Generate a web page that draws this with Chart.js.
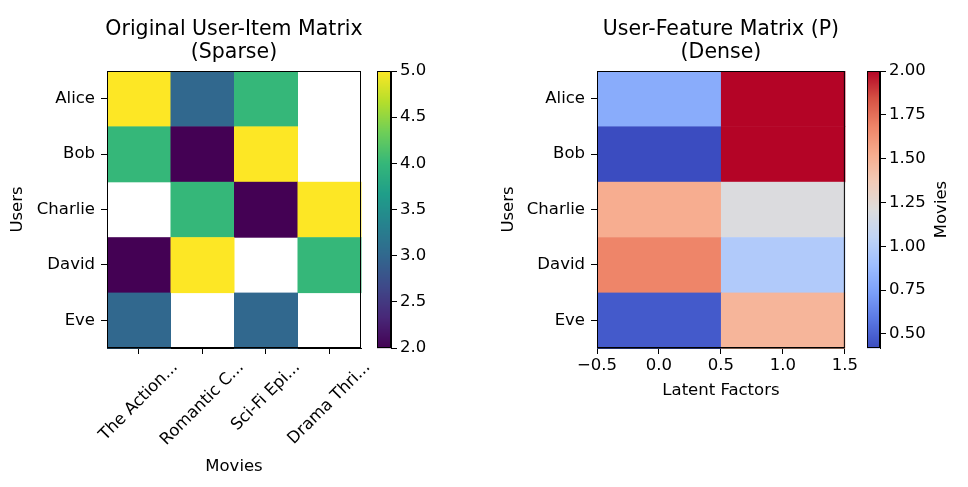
<!DOCTYPE html>
<html><head><meta charset="utf-8">
<script src="https://cdn.jsdelivr.net/npm/chart.js@4"></script>
<style>
body{margin:0;background:#fff;width:968px;height:487px;overflow:hidden;position:relative;font-family:"DejaVu Sans"}
.p{position:absolute;top:0;height:487px}
</style></head><body>
<div class="p" style="left:0;width:370px"><canvas id="c1"></canvas></div>
<div class="p" style="left:370px;width:110px"><canvas id="c2"></canvas></div>
<div class="p" style="left:480px;width:380px"><canvas id="c3"></canvas></div>
<div class="p" style="left:860px;width:108px"><canvas id="c4"></canvas></div>
<script>
const users = ["Alice","Bob","Charlie","David","Eve"];
const movies = ["The Action...","Romantic C...","Sci-Fi Epi...","Drama Thri..."];
const ratings = [
  [5,3,4,null],
  [4,2,5,null],
  [null,4,2,5],
  [2,5,null,4],
  [3,null,3,null]
];
const latentFactors = [0,1];
const userFeatures = [
  [0.80,2.00],
  [0.42,2.00],
  [1.52,1.20],
  [1.68,0.98],
  [0.47,1.48]
];
const ratingTicks = [2.0,2.5,3.0,3.5,4.0,4.5,5.0];
const featureTicks = [0.50,0.75,1.00,1.25,1.50,1.75,2.00];
const featureMin = 0.42, featureMax = 2.0;

const FS = 16.5;
Chart.defaults.font.family = "DejaVu Sans";
Chart.defaults.font.size = FS;
Chart.defaults.color = "#000";
Chart.defaults.animation = false;
Chart.defaults.responsive = true;
Chart.defaults.maintainAspectRatio = false;

const viridis = ["#440154","#482878","#3e4989","#31688e","#26828e","#1f9e89","#35b779","#6ece58","#b5de2b","#fde725"];
const coolwarm = ["#3b4cc0","#5977e3","#7b9ff9","#9ebeff","#c0d4f5","#dddcdc","#f2cbb7","#f7ac8e","#ee8468","#d65244","#b40426"];
function hex(h){return [1,3,5].map(i=>parseInt(h.substr(i,2),16));}
function cmap(stops,t){t=Math.max(0,Math.min(1,t));const n=stops.length-1;const i=Math.min(n-1,Math.floor(t*n));const f=t*n-i;const a=hex(stops[i]),b=hex(stops[i+1]);return `rgb(${a.map((v,k)=>Math.round(v+(b[k]-v)*f)).join(",")})`;}

const tickGrid = {display:true,drawOnChartArea:false,tickLength:6,color:"#000",tickWidth:1};
const border = {display:true,color:"#000",width:1};

function titlePlugin(lines){return {id:"t",afterDraw(c){const x=c.ctx;x.save();x.font="20.5px 'DejaVu Sans'";x.fillStyle="#000";x.textAlign="center";x.textBaseline="middle";const m=(c.chartArea.left+c.chartArea.right)/2;x.fillText(lines[0],m,30);x.fillText(lines[1],m,53);x.restore();}};}
function frame(){return {id:"f",afterDatasetsDraw(c){const a=c.chartArea,x=c.ctx;x.save();x.strokeStyle="#000";x.lineWidth=1;x.strokeRect(a.left+.5,a.top+.5,a.width-1,a.height-1);x.restore();}};}

// Left heatmap
new Chart(document.getElementById("c1"),{
  type:"scatter",
  data:{datasets:[{data:[]}]},
  options:{
    layout:{padding:{top:71,right:9,left:8,bottom:6}},
    plugins:{legend:{display:false},tooltip:{enabled:false}},
    scales:{
      x:{type:"category",labels:movies,offset:true,grid:tickGrid,border,
         ticks:{display:false},
         title:{display:true,text:"Movies",padding:{top:4}},
         afterFit(s){s.height=133;}},
      y:{type:"category",labels:users,offset:true,grid:tickGrid,border,
         ticks:{padding:6},
         title:{display:true,text:"Users",padding:0},
         afterFit(s){s.width=99;}}
    }
  },
  plugins:[titlePlugin(["Original User-Item Matrix","(Sparse)"]),{id:"cells",beforeDatasetsDraw(c){
    const x=c.ctx,xs=c.scales.x,ys=c.scales.y,w=c.chartArea.width/movies.length,h=c.chartArea.height/users.length;
    ratings.forEach((row,i)=>row.forEach((v,j)=>{if(v==null)return;x.fillStyle=cmap(viridis,(v-2)/3);
      x.fillRect(xs.getPixelForValue(j)-w/2,ys.getPixelForValue(i)-h/2,w+0.5,h+0.5);}));}},frame(),
  {id:"xl",afterDraw(c){const x=c.ctx,xs=c.scales.x,a=c.chartArea;x.save();x.font=FS+"px 'DejaVu Sans'";x.fillStyle="#000";x.textAlign="center";x.textBaseline="middle";
    movies.forEach((m,j)=>{const W=x.measureText(m).width,H=FS;const half=(W+H)*Math.SQRT1_2/2;x.save();x.translate(xs.getPixelForValue(j),a.bottom+11+half);x.rotate(-Math.PI/4);x.fillText(m,0,0);x.restore();});x.restore();}}]
});

function colorbar(id,min,max,ticks,fmt,stops,title,w){
  new Chart(document.getElementById(id),{
    type:"scatter",data:{datasets:[{data:[]}]},
    options:{
      layout:{padding:{top:71,left:7,right:0,bottom:139}},
      plugins:{legend:{display:false},tooltip:{enabled:false}},
      scales:{
        x:{display:false,min:0,max:1},
        y:{position:"right",min,max,grid:tickGrid,border,
           afterBuildTicks(s){s.ticks=ticks.map(v=>({value:v}));},
           ticks:{callback:v=>fmt(v),padding:3},
           afterFit(s){s.width=w;}}
      }
    },
    plugins:[{id:"grad",beforeDatasetsDraw(c){const a=c.chartArea,x=c.ctx,ys=c.scales.y;
      for(let p=a.top;p<a.bottom;p++){const v=ys.getValueForPixel(p+0.5);x.fillStyle=cmap(stops,(v-min)/(max-min));x.fillRect(a.left,p,a.width,1.2);}
    }},frame(),{id:"ttl",afterDraw(c){if(!title)return;const x=c.ctx,a=c.chartArea;x.save();x.font=FS+"px 'DejaVu Sans'";x.fillStyle="#000";x.textAlign="center";x.textBaseline="middle";x.translate(a.right+62,(a.top+a.bottom)/2);x.rotate(-Math.PI/2);x.fillText(title,0,0);x.restore();}}]
  });
}
colorbar("c2",2,5,ratingTicks,v=>v.toFixed(1),viridis,null,89);

// Right heatmap
new Chart(document.getElementById("c3"),{
  type:"scatter",data:{datasets:[{data:[]}]},
  options:{
    layout:{padding:{top:71,right:10,left:19,bottom:82}},
    plugins:{legend:{display:false},tooltip:{enabled:false}},
    scales:{
      x:{type:"linear",min:-0.5,max:1.5,grid:tickGrid,border,
         afterBuildTicks(s){s.ticks=[-0.5,0,0.5,1,1.5].map(v=>({value:v}));},
         ticks:{callback:v=>(v<0?"\u2212":"")+Math.abs(v).toFixed(1),padding:2},
         title:{display:true,text:"Latent Factors",padding:{top:2}},
         afterFit(s){s.height=57;}},
      y:{type:"category",labels:users,offset:true,grid:tickGrid,border,
         ticks:{padding:6},
         title:{display:true,text:"Users",padding:0},
         afterFit(s){s.width=98;}}
    }
  },
  plugins:[titlePlugin(["User-Feature Matrix (P)","(Dense)"]),{id:"cells",beforeDatasetsDraw(c){
    const x=c.ctx,xs=c.scales.x,ys=c.scales.y,w=c.chartArea.width/latentFactors.length,h=c.chartArea.height/users.length;
    userFeatures.forEach((row,i)=>row.forEach((v,j)=>{x.fillStyle=cmap(coolwarm,(v-featureMin)/(featureMax-featureMin));
      x.fillRect(xs.getPixelForValue(latentFactors[j])-w/2,ys.getPixelForValue(i)-h/2,w+0.5,h+0.5);}));}},frame()]
});
colorbar("c4",featureMin,featureMax,featureTicks,v=>v.toFixed(2),coolwarm,"Movies",88);
</script></body></html>
